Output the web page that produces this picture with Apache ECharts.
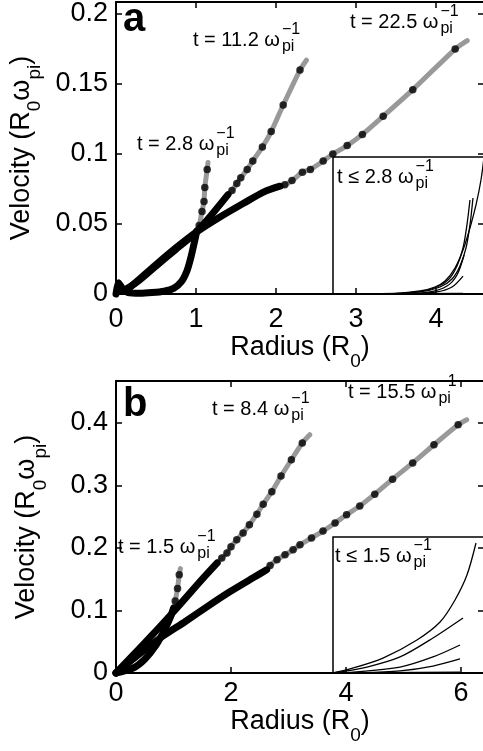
<!DOCTYPE html>
<html><head><meta charset="utf-8">
<script src="https://cdn.jsdelivr.net/npm/echarts@6/dist/echarts.min.js"></script>
<style>html,body{margin:0;padding:0;background:#fff;}#c{width:483px;height:751px;}</style>
</head><body><div id="c"></div>
<script>
const FAM = "'Liberation Sans', Arial, Helvetica, sans-serif";

// ---------------- Panel a : Radius (R0) vs Velocity (R0 w_pi) ----------------
const aXTickLabels = ['0', '1', '2', '3', '4'];
const aYTickLabels = ['0', '0.05', '0.1', '0.15', '0.2'];
// t = 2.8 / w_pi
const aT28Dense = [[0,0],[0.03,0.008],[0.08,0.004],[0.15,0.001],[0.3,0.0005],[0.45,0.001],[0.6,0.002],[0.72,0.004],[0.82,0.009],[0.89,0.017],[0.94,0.027],[0.98,0.037],[1.01,0.045]];
const aT28Dots  = [[1.04,0.049],[1.075,0.059],[1.10,0.066],[1.11,0.076],[1.14,0.089]];
const aT28End   = [[1.15,0.094]];
// t = 11.2 / w_pi
const aT112Dense = [[0.08,0.002],[0.25,0.008],[0.5,0.02],[0.75,0.032],[1.0,0.044],[1.2,0.057],[1.4,0.071]];
const aT112Dots  = [[1.45,0.074],[1.51,0.079],[1.56,0.083],[1.64,0.089],[1.71,0.095],[1.83,0.105],[1.94,0.116],[2.09,0.135],[2.3,0.16]];
const aT112End   = [[2.38,0.167]];
// t = 22.5 / w_pi
const aT225Dense = [[0.12,0.002],[0.3,0.011],[0.5,0.021],[0.75,0.033],[1.0,0.044],[1.3,0.055],[1.6,0.065],[1.85,0.073],[2.05,0.077]];
const aT225Dots  = [[2.11,0.078],[2.2,0.081],[2.33,0.087],[2.43,0.089],[2.59,0.095],[2.71,0.1],[2.89,0.106],[3.08,0.114],[3.34,0.127],[3.71,0.146],[4.24,0.175]];
const aT225End   = [[4.39,0.181]];
// inset a (t <= 2.8), normalised inset coordinates
const aInset1 = [[0,0],[0.444,0.007],[0.576,0.022],[0.675,0.051],[0.742,0.095],[0.808,0.19],[0.861,0.321],[0.907,0.482],[0.947,0.65],[0.98,0.832],[1.0,1.0]];
const aInset2 = [[0.311,0],[0.576,0.015],[0.709,0.051],[0.788,0.109],[0.841,0.204],[0.881,0.336],[0.907,0.504],[0.927,0.701]];
const aInset3 = [[0.344,0],[0.556,0.015],[0.689,0.051],[0.768,0.109],[0.821,0.204],[0.861,0.336],[0.887,0.504],[0.907,0.686]];
const aInset4 = [[0.444,0],[0.642,0.015],[0.755,0.058],[0.821,0.139],[0.868,0.285]];
const aInset5 = [[0.51,0],[0.689,0.015],[0.788,0.051],[0.861,0.131]];
const aInset6 = [[0,0],[0.86,0.004]];

// ---------------- Panel b ----------------
const bXTickLabels = ['0', '2', '4', '6'];
const bYTickLabels = ['0', '0.1', '0.2', '0.3', '0.4'];
// t = 1.5 / w_pi
const bT15Dense = [[0,0],[0.3,0.008],[0.5,0.022],[0.7,0.045],[0.85,0.07],[0.95,0.09],[1.0,0.104]];
const bT15Dots  = [[1.03,0.115],[1.07,0.135],[1.10,0.157]];
const bT15End   = [[1.12,0.167]];
// t = 8.4 / w_pi
const bT84Dense = [[0,0],[0.5,0.048],[1.0,0.098],[1.5,0.15],[1.76,0.176]];
const bT84Dots  = [[1.84,0.184],[1.93,0.192],[2.0,0.202],[2.1,0.213],[2.21,0.224],[2.32,0.237],[2.45,0.254],[2.56,0.27],[2.71,0.29],[2.87,0.315],[3.05,0.341],[3.24,0.368]];
const bT84End   = [[3.37,0.381]];
// t = 15.5 / w_pi
const bT155Dense = [[0,0],[0.4,0.03],[0.8,0.058],[1.2,0.082],[1.6,0.107],[2.0,0.131],[2.4,0.153],[2.62,0.165]];
const bT155Dots  = [[2.68,0.172],[2.8,0.181],[2.94,0.189],[3.08,0.197],[3.2,0.205],[3.4,0.216],[3.6,0.227],[3.81,0.24],[4.01,0.253],[4.24,0.267],[4.5,0.286],[4.81,0.31],[5.16,0.336],[5.53,0.365],[5.95,0.397]];
const bT155End   = [[6.1,0.405]];
// inset b (t <= 1.5)
const bInset1 = [[0,0],[0.113,0.03],[0.331,0.11],[0.556,0.243],[0.709,0.375],[0.808,0.537],[0.887,0.72],[0.947,0.956]];
const bInset2 = [[0,0],[0.225,0.044],[0.444,0.118],[0.662,0.257],[0.861,0.404]];
const bInset3 = [[0.046,0],[0.444,0.044],[0.662,0.118],[0.841,0.206]];
const bInset4 = [[0.179,0],[0.444,0.015],[0.662,0.051],[0.841,0.103]];
const bInset5 = [[0,0],[0.841,0.007]];

// ---------------- helpers ----------------
function tickFmt(labels, interval) {
  return function (v) {
    const i = Math.round(v / interval);
    return (Math.abs(v - i * interval) < 1e-9 && labels[i] !== undefined) ? labels[i] : '';
  };
}
const axisLine = { show: true, onZero: false, lineStyle: { color: '#000', width: 2 } };
const axisTick = { show: true, inside: true, length: 6, lineStyle: { color: '#000', width: 1.5 } };
const richName = {
  n: { fontSize: 27, fontFamily: FAM, color: '#000', lineHeight: 37, verticalAlign: 'top' },
  s: { fontSize: 19, fontFamily: FAM, color: '#000', lineHeight: 37, verticalAlign: 'bottom' }
};
function mainX(grid, max, interval, labels, margin, gap) {
  return { type: 'value', gridIndex: grid, min: 0, max: max, interval: interval, position: 'bottom',
    axisLine: axisLine, axisTick: axisTick, splitLine: { show: false },
    axisLabel: { color: '#000', fontSize: 27, fontFamily: FAM, margin: margin, formatter: tickFmt(labels, interval) },
    name: '{n|Radius (R}{s|0}{n|)}', nameLocation: 'middle', nameGap: gap,
    nameTextStyle: { rich: richName } };
}
function topX(grid, max, interval) {
  return { type: 'value', gridIndex: grid, min: 0, max: max, interval: interval, position: 'top',
    axisLine: axisLine, axisTick: axisTick, axisLabel: { show: false }, splitLine: { show: false } };
}
function mainY(grid, max, interval, labels) {
  return { type: 'value', gridIndex: grid, min: 0, max: max, interval: interval, position: 'left',
    axisLine: axisLine, axisTick: axisTick, splitLine: { show: false },
    axisLabel: { color: '#000', fontSize: 27, fontFamily: FAM, margin: 8, formatter: tickFmt(labels, interval) },
    name: '{n|Velocity (R}{s|0}{n|ω}{s|pi}{n|)}', nameLocation: 'middle', nameRotate: 90, nameGap: 66,
    nameTextStyle: { rich: richName } };
}
function rightY(grid, max, interval) {
  return { type: 'value', gridIndex: grid, min: 0, max: max, interval: interval, position: 'right',
    axisLine: axisLine, axisTick: axisTick, axisLabel: { show: false }, splitLine: { show: false } };
}
function hiddenAx(grid) { return { type: 'value', gridIndex: grid, min: 0, max: 1, show: false, splitLine: { show: false } }; }

function gray(data, xi, yi) {
  return { type: 'line', xAxisIndex: xi, yAxisIndex: yi, data: data, symbol: 'none', showSymbol: false,
    smooth: 0.25, clip: false, silent: true, z: 2,
    lineStyle: { color: '#999999', width: 5, cap: 'round' } };
}
function dense(data, xi, yi) {
  return { type: 'line', xAxisIndex: xi, yAxisIndex: yi, data: data, symbol: 'none', showSymbol: false,
    smooth: 0.25, clip: false, silent: true, z: 3,
    lineStyle: { color: '#000', width: 7, cap: 'round', join: 'round' } };
}
function dots(data, xi, yi) {
  return { type: 'scatter', xAxisIndex: xi, yAxisIndex: yi, data: data, symbol: 'circle', symbolSize: 7.5,
    clip: false, silent: true, z: 4, itemStyle: { color: '#000' } };
}
function thin(data, xi, yi) {
  return { type: 'line', xAxisIndex: xi, yAxisIndex: yi, data: data, symbol: 'none', showSymbol: false,
    smooth: 0.3, clip: true, silent: true, z: 3, lineStyle: { color: '#000', width: 1.3 } };
}
function curveSet(d, e, end, xi, yi) {
  return [gray(d.concat(e, end), xi, yi), dense(d, xi, yi), dots(e, xi, yi)];
}

// text annotation helper: main text + stacked superscript/subscript
const mctx = document.createElement('canvas').getContext('2d');
function annot(x, y, main, sup, sub) {
  const f = '20px ' + FAM, fs = '16px ' + FAM;
  mctx.font = f;
  const w = mctx.measureText(main).width;
  const st = (t, font, yy, xx) => ({ type: 'text', z: 10, style: { text: t, x: xx, y: yy, font: font, fill: '#000',
    textAlign: 'left', textVerticalAlign: 'middle', align: 'left', verticalAlign: 'middle' } });
  return [st(main, f, y, x), st(sup, fs, y - 10, x + w + 2), st(sub, fs, y + 7, x + w + 2)];
}
function letter(x, y, t) {
  return { type: 'text', z: 10, style: { text: t, x: x, y: y, font: 'bold 40px ' + FAM, fill: '#000',
    textAlign: 'left', textVerticalAlign: 'middle', align: 'left', verticalAlign: 'middle' } };
}

const chart = echarts.init(document.getElementById('c'), null, { renderer: 'canvas' });
const option = {
  animation: false,
  backgroundColor: '#fff',
  grid: [
    { left: 116, top: 2, width: 368, height: 292, containLabel: false, outerBoundsMode: 'none' },
    { left: 333, top: 157, width: 151, height: 137, show: true, borderColor: '#000', borderWidth: 1.5, backgroundColor: 'transparent', containLabel: false, outerBoundsMode: 'none' },
    { left: 116, top: 381, width: 368, height: 292, containLabel: false, outerBoundsMode: 'none' },
    { left: 333, top: 537, width: 151, height: 136, show: true, borderColor: '#000', borderWidth: 1.5, backgroundColor: 'transparent', containLabel: false, outerBoundsMode: 'none' }
  ],
  xAxis: [
    mainX(0, 4.6, 1, aXTickLabels, 12, 39), topX(0, 4.6, 1), hiddenAx(1),
    mainX(2, 6.4, 2, bXTickLabels, 7, 33), topX(2, 6.4, 2), hiddenAx(3)
  ],
  yAxis: [
    mainY(0, 0.2086, 0.05, aYTickLabels), rightY(0, 0.2086, 0.05), hiddenAx(1),
    mainY(2, 0.467, 0.1, bYTickLabels), rightY(2, 0.467, 0.1), hiddenAx(3)
  ],
  series: [].concat(
    curveSet(aT225Dense, aT225Dots, aT225End, 0, 0),
    curveSet(aT112Dense, aT112Dots, aT112End, 0, 0),
    curveSet(aT28Dense, aT28Dots, aT28End, 0, 0),
    [aInset1, aInset2, aInset3, aInset4, aInset5, aInset6].map(d => thin(d, 2, 2)),
    curveSet(bT155Dense, bT155Dots, bT155End, 3, 3),
    curveSet(bT84Dense, bT84Dots, bT84End, 3, 3),
    curveSet(bT15Dense, bT15Dots, bT15End, 3, 3),
    [bInset1, bInset2, bInset3, bInset4, bInset5].map(d => thin(d, 5, 5))
  ),
  graphic: { elements: [].concat(
    [letter(123, 20, 'a'), letter(123, 405, 'b')],
    annot(193, 40, 't = 11.2 ω', '\u22121', 'pi'),
    annot(350, 22, 't = 22.5 ω', '\u22121', 'pi'),
    annot(137, 144, 't = 2.8 ω', '\u22121', 'pi'),
    annot(337, 177, 't \u2264 2.8 ω', '\u22121', 'pi'),
    annot(212, 409, 't = 8.4 ω', '\u22121', 'pi'),
    annot(348, 392, 't = 15.5 ω', '\u22121', 'pi'),
    annot(118, 547, 't = 1.5 ω', '\u22121', 'pi'),
    annot(335, 556, 't \u2264 1.5 ω', '\u22121', 'pi')
  ) }
};
chart.setOption(option);
</script>
</body></html>
